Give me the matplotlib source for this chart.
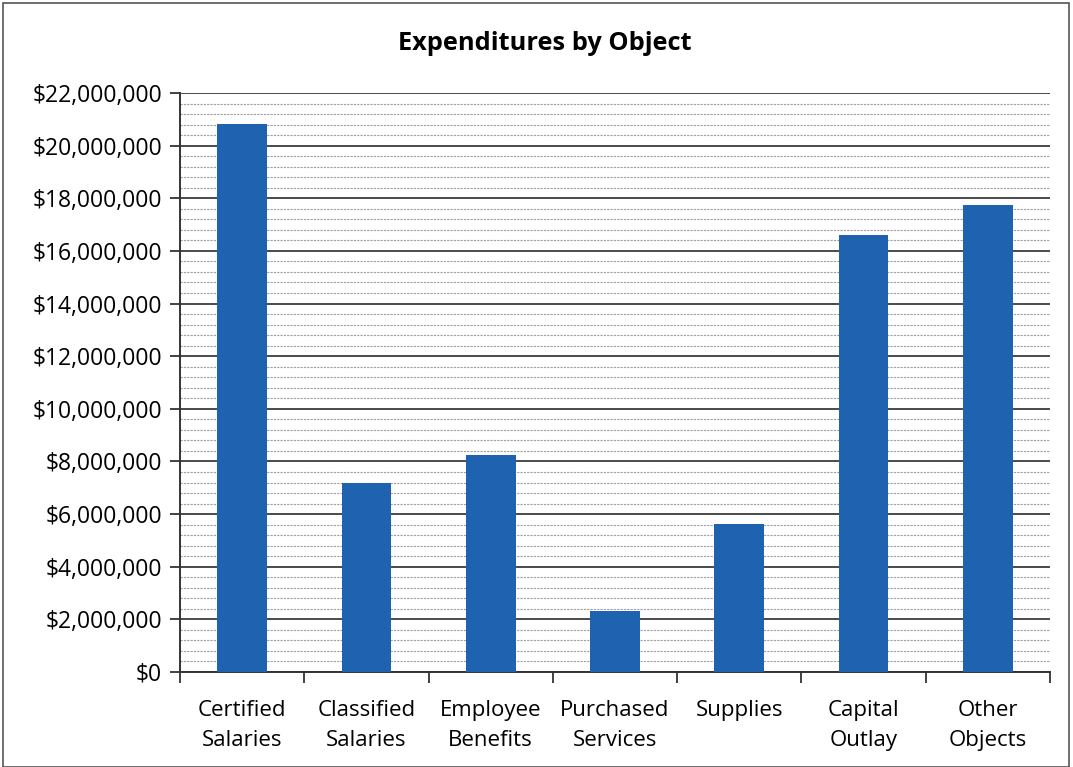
import matplotlib
matplotlib.use("Agg")
import matplotlib.pyplot as plt
from matplotlib.ticker import MultipleLocator, FuncFormatter, FixedLocator
from matplotlib.patches import Rectangle

categories = ["Certified\nSalaries", "Classified\nSalaries", "Employee\nBenefits",
              "Purchased\nServices", "Supplies", "Capital\nOutlay", "Other\nObjects"]
values = [20820000, 7180000, 8240000, 2320000, 5620000, 16600000, 17740000]
title = "Expenditures by Object"

plt.rcParams['font.family'] = ['Open Sans', 'DejaVu Sans']

fig = plt.figure(figsize=(10.73, 7.67), dpi=100)
ax = fig.add_axes([180/1073, 1-672/767, (1050-180)/1073, (672-93)/767])

x = list(range(len(categories)))
ax.bar(x, values, width=0.4, color="#1f63b0", zorder=3)

ax.set_xlim(-0.5, len(categories)-0.5)
ax.set_ylim(0, 22000000)
ax.yaxis.set_major_locator(MultipleLocator(2000000))
ax.yaxis.set_minor_locator(MultipleLocator(400000))
ax.yaxis.set_major_formatter(FuncFormatter(lambda v, p: "${:,.0f}".format(v)))
ax.grid(axis='y', which='major', color='#4a4a4a', linewidth=1.4, zorder=1)
ax.grid(axis='y', which='minor', color='#a0a0a0', linewidth=0.8, linestyle=(0, (2, 1)), zorder=1)

ax.set_xticks(x)
ax.set_xticklabels(categories, linespacing=1.55)
ax.tick_params(axis='x', which='major', length=0, pad=20, labelsize=16)
ax.xaxis.set_minor_locator(FixedLocator([i - 0.5 for i in range(len(categories)+1)]))
ax.tick_params(axis='x', which='minor', length=8, width=1.3, color='#333333')
ax.tick_params(axis='y', which='major', length=7, width=1.3, color='#333333', labelsize=16.5, pad=6)
ax.tick_params(axis='y', which='minor', length=0)

for s in ['top', 'right']:
    ax.spines[s].set_visible(False)
for s in ['left', 'bottom']:
    ax.spines[s].set_color('#333333')
    ax.spines[s].set_linewidth(1.4)

fig.text(545/1073, 1-44/767, title, ha='center', va='center', fontsize=18.3, fontweight='bold')

fig.patches.append(Rectangle((3/1073, 0.0), 1066/1073, 1-3/767, transform=fig.transFigure,
                             fill=False, edgecolor='#555555', linewidth=1.2))

fig.savefig("out.png", dpi=100)
